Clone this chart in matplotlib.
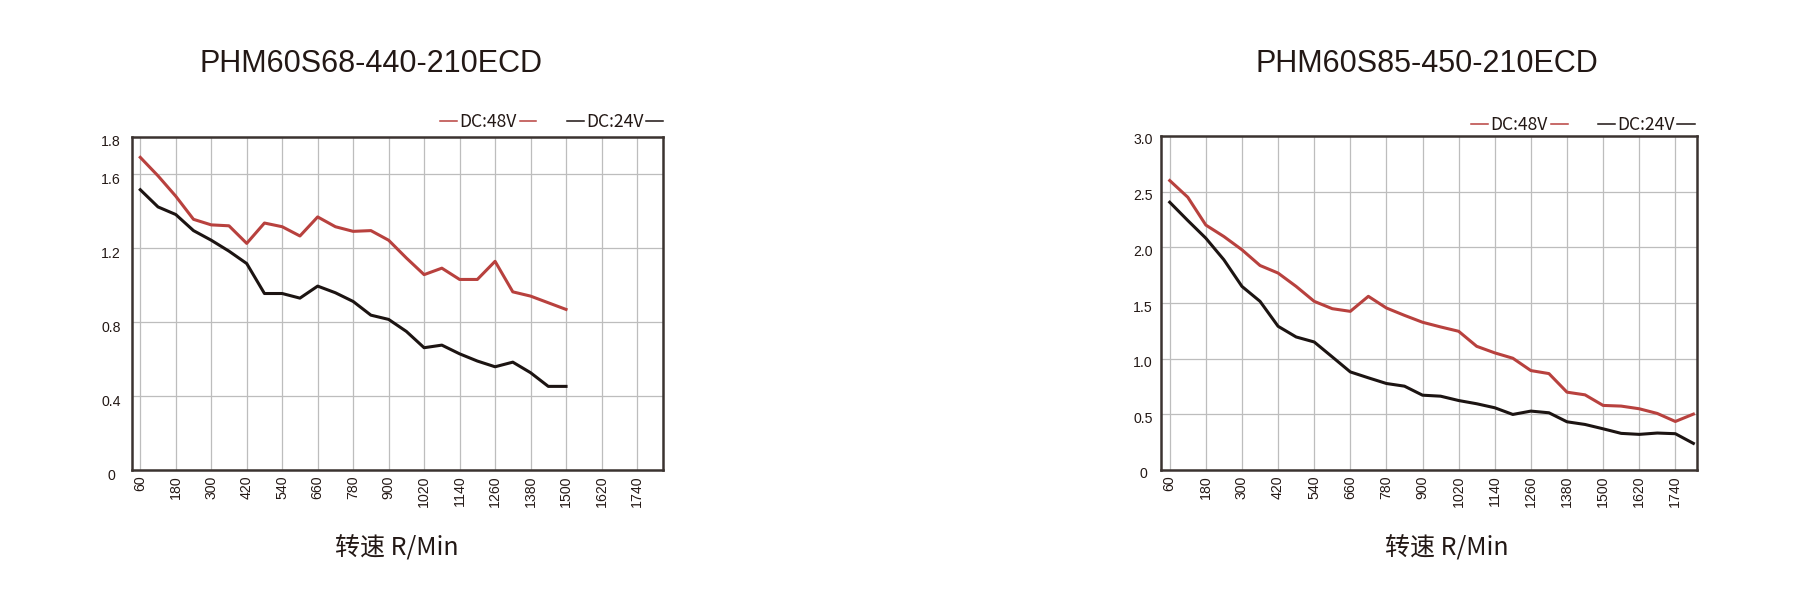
import numpy as np
import matplotlib
matplotlib.use("Agg")
import matplotlib.pyplot as plt
import matplotlib.transforms as mtransforms
from matplotlib.lines import Line2D

# ----------------- dados -----------------
TITULO_A = "PHM60S68-440-210ECD"
TITULO_B = "PHM60S85-450-210ECD"
XLABEL = "转速 R/Min"
SERIES = ["DC:48V", "DC:24V"]

rpm_a = np.arange(60, 1501, 60)
a_48v = [1.69, 1.59, 1.48, 1.355, 1.325, 1.32, 1.225, 1.335, 1.315, 1.265,
         1.368, 1.315, 1.29, 1.294, 1.242, 1.146, 1.056, 1.091, 1.03, 1.03,
         1.128, 0.963, 0.94, 0.904, 0.868]
a_24v = [1.515, 1.422, 1.381, 1.294, 1.242, 1.183, 1.116, 0.954, 0.954, 0.929,
         0.994, 0.958, 0.911, 0.837, 0.814, 0.749, 0.661, 0.675, 0.628, 0.589,
         0.558, 0.583, 0.526, 0.452, 0.452]

rpm_b = np.arange(60, 1801, 60)
b_48v = [2.60, 2.45, 2.20, 2.097, 1.978, 1.837, 1.769, 1.649, 1.515, 1.449,
         1.425, 1.56, 1.455, 1.389, 1.327, 1.285, 1.246, 1.111, 1.052, 1.004,
         0.893, 0.866, 0.699, 0.675, 0.58, 0.574, 0.55, 0.508, 0.436, 0.502]
b_24v = [2.405, 2.241, 2.082, 1.888, 1.649, 1.515, 1.291, 1.195, 1.15, 1.016,
         0.881, 0.828, 0.777, 0.753, 0.672, 0.663, 0.624, 0.595, 0.559, 0.499,
         0.529, 0.514, 0.433, 0.409, 0.37, 0.329, 0.32, 0.332, 0.326, 0.239]

xticks = np.arange(60, 1741, 120)
yticks_a = [0, 0.4, 0.8, 1.2, 1.6, 1.8]
ylabels_a = ["0", "0.4", "0.8", "1.2", "1.6", "1.8"]
yticks_b = [0, 0.5, 1.0, 1.5, 2.0, 2.5, 3.0]
ylabels_b = ["0", "0.5", "1.0", "1.5", "2.0", "2.5", "3.0"]

# ----------------- estilo -----------------
TXT = "#231815"
RED = "#b8413e"
BLK = "#1c1412"
GRID = "#bdbdbd"
LAT = "Liberation Sans"
CJK = ["Noto Sans CJK SC", "DejaVu Sans"]
W, H = 1800, 613

fig = plt.figure(figsize=(18, 6.13), dpi=100)


def px_rect(x0, x1, y0, y1):
    # caixa em pixels (origem no topo) -> fração da figura
    return [x0 / W, 1 - y1 / H, (x1 - x0) / W, (y1 - y0) / H]


def painel(rect, x, y48, y24, xlim, ylim, yt, ylab, ypad, ydrop):
    ax = fig.add_axes(rect)
    ax.plot(x, y48, color=RED, lw=2.2, zorder=3)
    ax.plot(x, y24, color=BLK, lw=2.2, zorder=3)
    ax.set_xlim(*xlim)
    ax.set_ylim(*ylim)
    ax.set_xticks(xticks)
    ax.set_xticklabels([str(v) for v in xticks], rotation=90, fontsize=10.2,
                       family=LAT, color=TXT)
    ax.set_yticks(yt)
    ax.set_yticklabels(ylab, fontsize=10.2, family=LAT, color=TXT, ha="center")
    ax.tick_params(axis="both", length=0)
    ax.tick_params(axis="x", pad=4)
    ax.tick_params(axis="y", pad=ypad)
    # rótulos do eixo y um pouco abaixo da linha de grade, como no original
    desloc = mtransforms.ScaledTranslation(0, -ydrop / 100, fig.dpi_scale_trans)
    for lab in ax.get_yticklabels():
        lab.set_transform(lab.get_transform() + desloc)
    ax.grid(True, color=GRID, lw=0.9, zorder=0)
    for s in ax.spines.values():
        s.set_color("#3b3330")
        s.set_linewidth(1.8)
    return ax


def legenda(xc, yc):
    # "—DC:48V—" com traços coloridos
    w_txt, w_line, gap = 61 / W, 17 / W, 1 / W
    yf = 1 - yc / H
    for xm, lab, cor in zip(xc, SERIES, [RED, BLK]):
        xf = xm / W
        fig.text(xf, yf, lab, ha="center", va="center", fontsize=12.6,
                 family=CJK, color=TXT)
        for x0 in (xf - w_txt / 2 - gap - w_line, xf + w_txt / 2 + gap):
            fig.add_artist(Line2D([x0, x0 + w_line], [yf + 0.002, yf + 0.002],
                                  color=cor, lw=1.1, transform=fig.transFigure))


painel(px_rect(132, 663, 137, 470), rpm_a, a_48v, a_24v,
       (32, 1828), (0, 1.8), yticks_a, ylabels_a, ypad=15, ydrop=4)
painel(px_rect(1161, 1697, 136, 470), rpm_b, b_48v, b_24v,
       (31, 1812), (0, 3.0), yticks_b, ylabels_b, ypad=13, ydrop=3)

fig.text(371 / W, 1 - 64 / H, TITULO_A, ha="center", va="center",
         fontsize=22, family=LAT, color=TXT)
fig.text(1427 / W, 1 - 64 / H, TITULO_B, ha="center", va="center",
         fontsize=22, family=LAT, color=TXT)

legenda([488, 615], 122)
legenda([1519, 1646], 125)

fig.text(397 / W, 1 - 548 / H, XLABEL, ha="center", va="center",
         fontsize=18, family=CJK, color=TXT)
fig.text(1447 / W, 1 - 548 / H, XLABEL, ha="center", va="center",
         fontsize=18, family=CJK, color=TXT)

fig.savefig("out.png", dpi=100, facecolor="white")
